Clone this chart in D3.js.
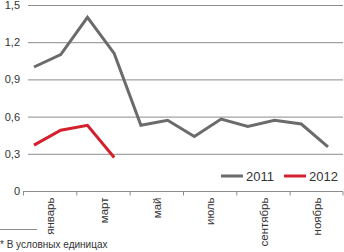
<!DOCTYPE html>
<html>
<head>
<meta charset="utf-8">
<script src="https://cdn.jsdelivr.net/npm/d3@7"></script>
<style>
  body { margin: 0; background: #fff; }
  text { font-family: "Liberation Sans", Arial, sans-serif; fill: #333; }
</style>
</head>
<body>
<div id="chart"></div>
<script>
// data
const months = ["январь","февраль","март","апрель","май","июнь","июль","август","сентябрь","октябрь","ноябрь","декабрь"];
const labelMonths = ["январь","март","май","июль","сентябрь","ноябрь"];
const values2011 = [1.0, 1.1, 1.4, 1.11, 0.53, 0.57, 0.44, 0.58, 0.52, 0.57, 0.54, 0.355];
const values2012 = [0.37, 0.49, 0.53, 0.27];
const yTicks = [0, 0.3, 0.6, 0.9, 1.2, 1.5];
const seriesNames = ["2011", "2012"];
const colors = ["#6b6b6b", "#d4202c"];

const width = 344, height = 252;
const margin = { top: 5, right: 1, bottom: 61, left: 23 };

const svg = d3.select("#chart").append("svg")
  .attr("width", width)
  .attr("height", height);

const y = d3.scaleLinear()
  .domain([0, 1.5])
  .range([height - margin.bottom, margin.top]);

// points for months
const x = d3.scalePoint()
  .domain(months)
  .range([margin.left + 11, width - margin.right - 15]);

// two-month slots for ticks/labels
const xb = d3.scaleBand()
  .domain(labelMonths)
  .range([margin.left, width - margin.right]);

// gridlines
svg.append("g")
  .selectAll("line")
  .data(yTicks.filter(d => d > 0))
  .enter().append("line")
  .attr("x1", margin.left + 5)
  .attr("x2", width - margin.right)
  .attr("y1", d => y(d) + 0.5)
  .attr("y2", d => y(d) + 0.5)
  .attr("stroke", "#8c8c8c")
  .attr("stroke-width", 1);

// y labels
svg.append("g")
  .selectAll("text")
  .data(yTicks)
  .enter().append("text")
  .attr("x", 20)
  .attr("y", d => y(d))
  .attr("dy", "0.36em")
  .attr("text-anchor", "end")
  .style("font-size", "11px")
  .text(d => d3.format(".1f")(d).replace(".", ",").replace(/^0,0$/, "0"));

// x axis
const xAxis = svg.append("g")
  .attr("transform", `translate(0, ${y(0) + 0.5})`);
xAxis.append("line")
  .attr("x1", margin.left)
  .attr("x2", width - margin.right)
  .attr("stroke", "#8c8c8c");
xAxis.selectAll(".tick")
  .data(labelMonths.map(m => xb(m)).concat([width - margin.right - 0.5]))
  .enter().append("line")
  .attr("x1", d => d + 0.5)
  .attr("x2", d => d + 0.5)
  .attr("y1", 0)
  .attr("y2", 4)
  .attr("stroke", "#8c8c8c");
xAxis.selectAll("text")
  .data(labelMonths)
  .enter().append("text")
  .attr("transform", d => `translate(${xb(d) + xb.bandwidth() / 2 + 4.5}, 6) rotate(-90)`)
  .attr("text-anchor", "end")
  .style("font-size", "11.5px")
  .text(d => d);

// lines
const line = d3.line()
  .x((d, i) => x(months[i]))
  .y(d => y(d));

[values2011, values2012].forEach((vals, i) => {
  svg.append("path")
    .datum(vals)
    .attr("d", line)
    .attr("fill", "none")
    .attr("stroke", colors[i])
    .attr("stroke-width", 3)
    .attr("stroke-linejoin", "miter");
});

// legend
const legend = svg.append("g").attr("transform", "translate(221, 176)");
const legendX = [0, 63];
seriesNames.forEach((name, i) => {
  legend.append("line")
    .attr("x1", legendX[i]).attr("x2", legendX[i] + 22)
    .attr("y1", 0).attr("y2", 0)
    .attr("stroke", colors[i]).attr("stroke-width", 3);
  legend.append("text")
    .attr("x", legendX[i] + 25)
    .attr("y", 0)
    .attr("dy", "0.36em")
    .style("font-size", "13px")
    .text(name);
});

// footnote
svg.append("line")
  .attr("x1", 0).attr("x2", 37)
  .attr("y1", 229.5).attr("y2", 229.5)
  .attr("stroke", "#8c8c8c");
svg.append("text")
  .attr("x", 0)
  .attr("y", 248)
  .style("font-size", "10px")
  .text("* В условных единицах");
</script>
</body>
</html>
